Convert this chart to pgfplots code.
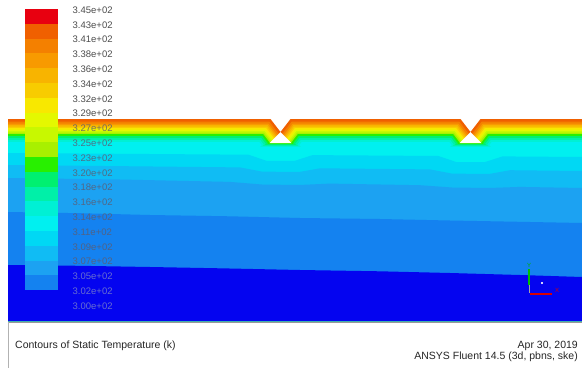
\documentclass[border=0pt]{standalone}
\usepackage{pgfplots}
\pgfplotsset{compat=1.18}
\usepackage{fontspec}
\setmainfont{Liberation Sans}
\definecolor{t0}{HTML}{E80010}
\definecolor{t1}{HTML}{F06000}
\definecolor{t2}{HTML}{F48000}
\definecolor{t3}{HTML}{F89A00}
\definecolor{t4}{HTML}{F8B400}
\definecolor{t5}{HTML}{F8CC00}
\definecolor{t6}{HTML}{F8E800}
\definecolor{t7}{HTML}{E4F800}
\definecolor{t8}{HTML}{C8F800}
\definecolor{t9}{HTML}{A8F000}
\definecolor{t10}{HTML}{28F000}
\definecolor{t11}{HTML}{00F070}
\definecolor{t12}{HTML}{00F0A8}
\definecolor{t13}{HTML}{00F0D4}
\definecolor{t14}{HTML}{00F0F0}
\definecolor{t15}{HTML}{00D8F4}
\definecolor{t16}{HTML}{10BCF4}
\definecolor{t17}{HTML}{1CA2F2}
\definecolor{t18}{HTML}{1482F0}
\definecolor{t19}{HTML}{0404F0}
\definecolor{lbl}{HTML}{4D4D4D}
\definecolor{lblf}{HTML}{5C5C72}
\definecolor{lblb}{HTML}{8088C8}
\begin{document}
\begin{tikzpicture}
\begin{axis}[scale only axis, width=582bp, height=368bp,
  xmin=0, xmax=582, ymin=0, ymax=368, y dir=reverse, hide axis, clip=true]
% background
\addplot[fill=white, draw=none] coordinates {(0,0)(582,0)(582,368)(0,368)} -- cycle;
% ---- field bands (each filled from its upper boundary down to the field bottom)
\addplot[fill=t1, draw=none] coordinates {(8,321)(8,119)(270.5,119)(280.5,132)(290.5,119)(460.5,119)(470.5,132)(480.5,119)(582,119)(582,321)} -- cycle;
\addplot[fill=t2, draw=none] coordinates {(8,321)(8,121.5)(269.3,121.5)(278.7,133.8)(280.5,140)(282.3,133.8)(291.7,121.5)(459.3,121.5)(468.7,133.8)(470.5,140)(472.3,133.8)(481.7,121.5)(582,121.5)(582,321)} -- cycle;
\addplot[fill=t3, draw=none] coordinates {(8,321)(8,123.5)(268.3,123.5)(277.3,135.2)(280.5,140)(283.7,135.2)(292.7,123.5)(458.3,123.5)(467.3,135.2)(470.5,140)(473.7,135.2)(482.7,123.5)(582,123.5)(582,321)} -- cycle;
\addplot[fill=t4, draw=none] coordinates {(8,321)(8,125)(267.6,125)(276.2,136.3)(280.5,140)(284.8,136.3)(293.4,125)(457.6,125)(466.2,136.3)(470.5,140)(474.8,136.3)(483.4,125)(582,125)(582,321)} -- cycle;
\addplot[fill=t5, draw=none] coordinates {(8,321)(8,126.5)(266.8,126.5)(275.2,137.3)(280.5,141)(285.8,137.3)(294.2,126.5)(456.8,126.5)(465.2,137.3)(470.5,141)(475.8,137.3)(484.2,126.5)(582,126.5)(582,321)} -- cycle;
\addplot[fill=t6, draw=none] coordinates {(8,321)(8,128)(266.1,128)(274.1,138.4)(280.5,141)(286.9,138.4)(294.9,128)(456.1,128)(464.1,138.4)(470.5,141)(476.9,138.4)(484.9,128)(582,128)(582,321)} -- cycle;
\addplot[fill=t7, draw=none] coordinates {(8,321)(8,129.5)(265.4,129.5)(273,139.5)(280.5,142)(288,139.5)(295.6,129.5)(455.4,129.5)(463,139.5)(470.5,142)(478,139.5)(485.6,129.5)(582,129.5)(582,321)} -- cycle;
\addplot[fill=t8, draw=none] coordinates {(8,321)(8,131)(264.6,131)(272,140.5)(280.5,142)(289,140.5)(296.4,131)(454.6,131)(462,140.5)(470.5,142)(479,140.5)(486.4,131)(582,131)(582,321)} -- cycle;
\addplot[fill=t9, draw=none] coordinates {(8,321)(8,132.5)(263.9,132.5)(270.9,141.6)(280.5,142.3)(290.1,141.6)(297.1,132.5)(453.9,132.5)(460.9,141.6)(470.5,142.3)(480.1,141.6)(487.1,132.5)(582,132.5)(582,321)} -- cycle;
\addplot[fill=t10, draw=none] coordinates {(8,321)(8,134)(263.1,134)(269.8,142.7)(280.5,142.5)(291.2,142.7)(297.9,134)(453.1,134)(459.8,142.7)(470.5,142.5)(481.2,142.7)(487.9,134)(582,134)(582,321)} -- cycle;
\addplot[fill=t11, draw=none] coordinates {(8,321)(8,136)(262.2,136)(267.8,143.3)(267.1,144)(293.9,144)(293.2,143.3)(298.8,136)(452.2,136)(457.8,143.3)(457.1,144)(483.9,144)(483.2,143.3)(488.8,136)(582,136)(582,321)} -- cycle;
\addplot[fill=t12, draw=none] coordinates {(8,321)(8,138)(261.2,138)(265.8,143.9)(264.7,145)(296.3,145)(295.2,143.9)(299.8,138)(451.2,138)(455.8,143.9)(454.7,145)(486.3,145)(485.2,143.9)(489.8,138)(582,138)(582,321)} -- cycle;
\addplot[fill=t13, draw=none] coordinates {(8,321)(8,140)(260.2,140)(263.7,144.6)(262.3,146)(298.7,146)(297.3,144.6)(300.8,140)(450.2,140)(453.7,144.6)(452.3,146)(488.7,146)(487.3,144.6)(490.8,140)(582,140)(582,321)} -- cycle;
\addplot[fill=t14, draw=none] coordinates {(8,321)(8,142)(259.2,142)(261.7,145.2)(259.9,147)(301.1,147)(299.3,145.2)(301.8,142)(449.2,142)(451.7,145.2)(449.9,147)(491.1,147)(489.3,145.2)(491.8,142)(582,142)(582,321)} -- cycle;
\addplot[fill=t15, draw=none] coordinates {(8,321)(8,153)(248.5,154.7)(266.5,160.8)(294.5,160.9)(312.5,155.1)(438.5,156.0)(456.5,162.1)(484.5,162.2)(502.5,156.4)(582,157)(582,321)} -- cycle;
\addplot[fill=t16, draw=none] coordinates {(8,321)(8,165)(240,167.4)(262,171.6)(299,172)(320,168.3)(430,169.4)(452,173.6)(489,174)(510,170.2)(582,171)(582,321)} -- cycle;
\addplot[fill=t17, draw=none] coordinates {(8,321)(8,178)(120,179.5)(230,181.9)(262,184.5)(299,185)(330,183.6)(420,185.2)(452,187.5)(489,188)(520,186.9)(582,188)(582,321)} -- cycle;
\addplot[fill=t18, draw=none] coordinates {(8,321)(8,212)(80,213.2)(150,215)(230,216.3)(300,218)(380,219)(450,220.5)(520,221.8)(582,223)(582,321)} -- cycle;
\addplot[fill=t19, draw=none] coordinates {(8,321)(8,265)(80,265.8)(150,267)(220,268.3)(300,270)(380,271.3)(450,273)(520,275)(582,277)(582,321)} -- cycle;
% ---- white triangular voids
\addplot[fill=white, draw=none] coordinates {(269.5,143.2)(280.5,132)(291.5,143.2)} -- cycle;
\addplot[fill=white, draw=none] coordinates {(459.5,143.2)(470.5,132)(481.5,143.2)} -- cycle;
% ---- colour bar (20 bands)
\addplot[fill=t0, draw=none] coordinates {(24.5,9)(57.5,9)(57.5,23.8)(24.5,23.8)} -- cycle;
\addplot[fill=t1, draw=none] coordinates {(24.5,23.8)(57.5,23.8)(57.5,38.6)(24.5,38.6)} -- cycle;
\addplot[fill=t2, draw=none] coordinates {(24.5,38.6)(57.5,38.6)(57.5,53.4)(24.5,53.4)} -- cycle;
\addplot[fill=t3, draw=none] coordinates {(24.5,53.4)(57.5,53.4)(57.5,68.2)(24.5,68.2)} -- cycle;
\addplot[fill=t4, draw=none] coordinates {(24.5,68.2)(57.5,68.2)(57.5,83.0)(24.5,83.0)} -- cycle;
\addplot[fill=t5, draw=none] coordinates {(24.5,83.0)(57.5,83.0)(57.5,97.8)(24.5,97.8)} -- cycle;
\addplot[fill=t6, draw=none] coordinates {(24.5,97.8)(57.5,97.8)(57.5,112.6)(24.5,112.6)} -- cycle;
\addplot[fill=t7, draw=none] coordinates {(24.5,112.6)(57.5,112.6)(57.5,127.4)(24.5,127.4)} -- cycle;
\addplot[fill=t8, draw=none] coordinates {(24.5,127.4)(57.5,127.4)(57.5,142.2)(24.5,142.2)} -- cycle;
\addplot[fill=t9, draw=none] coordinates {(24.5,142.2)(57.5,142.2)(57.5,157.0)(24.5,157.0)} -- cycle;
\addplot[fill=t10, draw=none] coordinates {(24.5,157.0)(57.5,157.0)(57.5,171.8)(24.5,171.8)} -- cycle;
\addplot[fill=t11, draw=none] coordinates {(24.5,171.8)(57.5,171.8)(57.5,186.6)(24.5,186.6)} -- cycle;
\addplot[fill=t12, draw=none] coordinates {(24.5,186.6)(57.5,186.6)(57.5,201.4)(24.5,201.4)} -- cycle;
\addplot[fill=t13, draw=none] coordinates {(24.5,201.4)(57.5,201.4)(57.5,216.2)(24.5,216.2)} -- cycle;
\addplot[fill=t14, draw=none] coordinates {(24.5,216.2)(57.5,216.2)(57.5,231.0)(24.5,231.0)} -- cycle;
\addplot[fill=t15, draw=none] coordinates {(24.5,231.0)(57.5,231.0)(57.5,245.8)(24.5,245.8)} -- cycle;
\addplot[fill=t16, draw=none] coordinates {(24.5,245.8)(57.5,245.8)(57.5,260.6)(24.5,260.6)} -- cycle;
\addplot[fill=t17, draw=none] coordinates {(24.5,260.6)(57.5,260.6)(57.5,275.4)(24.5,275.4)} -- cycle;
\addplot[fill=t18, draw=none] coordinates {(24.5,275.4)(57.5,275.4)(57.5,290.2)(24.5,290.2)} -- cycle;
\addplot[fill=t19, draw=none] coordinates {(24.5,290.2)(57.5,290.2)(57.5,305.0)(24.5,305.0)} -- cycle;
% ---- bottom panel frame
\addplot[draw=white, fill=white] coordinates {(8,322)(582,322)(582,368)(8,368)} -- cycle;
\addplot[draw=black!40, line width=1bp] coordinates {(8,322)(582,322)};
\addplot[draw=black!30, line width=0.8bp] coordinates {(8,322)(8,368)};
% ---- axis triad
\addplot[draw=black!35, line width=1bp] coordinates {(529,284)(529,293)};
\addplot[draw=green!75!black, line width=1.3bp] coordinates {(529,269)(529,285)};
\addplot[draw=red!85!black, line width=1.6bp] coordinates {(530,294)(552,294)};
\addplot[only marks, mark=*, mark size=0.9bp, white] coordinates {(542,283)};
\node[text=green!70!black, font=\fontsize{6bp}{6bp}\selectfont, inner sep=0] at (axis cs:529,265) {Y};
\node[text=red!85!black, font=\fontsize{6bp}{6bp}\selectfont, inner sep=0] at (axis cs:557,290) {X};
% ---- colour bar labels
\begin{scope}[every node/.style={anchor=west, inner sep=0, font=\fontsize{9.5bp}{10bp}\selectfont}]
\node[text=lbl] at (axis cs:72.5,10) {3.45e+02};
\node[text=lbl] at (axis cs:72.5,24.8) {3.43e+02};
\node[text=lbl] at (axis cs:72.5,39.6) {3.41e+02};
\node[text=lbl] at (axis cs:72.5,54.4) {3.38e+02};
\node[text=lbl] at (axis cs:72.5,69.2) {3.36e+02};
\node[text=lbl] at (axis cs:72.5,84) {3.34e+02};
\node[text=lbl] at (axis cs:72.5,98.8) {3.32e+02};
\node[text=lbl] at (axis cs:72.5,113.6) {3.29e+02};
\node[text=lblf, text opacity=0.85] at (axis cs:72.5,128.4) {3.27e+02};
\node[text=lblf, text opacity=0.85] at (axis cs:72.5,143.2) {3.25e+02};
\node[text=lblf, text opacity=0.85] at (axis cs:72.5,158) {3.23e+02};
\node[text=lblf, text opacity=0.85] at (axis cs:72.5,172.8) {3.20e+02};
\node[text=lblf, text opacity=0.85] at (axis cs:72.5,187.6) {3.18e+02};
\node[text=lblf, text opacity=0.85] at (axis cs:72.5,202.4) {3.16e+02};
\node[text=lblf, text opacity=0.85] at (axis cs:72.5,217.2) {3.14e+02};
\node[text=lblf, text opacity=0.85] at (axis cs:72.5,232) {3.11e+02};
\node[text=lblf, text opacity=0.85] at (axis cs:72.5,246.8) {3.09e+02};
\node[text=lblf, text opacity=0.85] at (axis cs:72.5,261.6) {3.07e+02};
\node[text=lblb, text opacity=0.8] at (axis cs:72.5,276.4) {3.05e+02};
\node[text=lblb, text opacity=0.8] at (axis cs:72.5,291.2) {3.02e+02};
\node[text=lblb, text opacity=0.8] at (axis cs:72.5,306) {3.00e+02};
\end{scope}
% ---- bottom texts
\begin{scope}[every node/.style={inner sep=0, text=black!85, font=\fontsize{10.5bp}{12bp}\selectfont}]
\node[anchor=base west] at (axis cs:15,348) {Contours of Static Temperature (k)};
\node[anchor=base east] at (axis cs:578,348) {Apr 30, 2019};
\node[anchor=base east] at (axis cs:578,359.5) {ANSYS Fluent 14.5 (3d, pbns, ske)};
\end{scope}
\end{axis}
\end{tikzpicture}
\end{document}
